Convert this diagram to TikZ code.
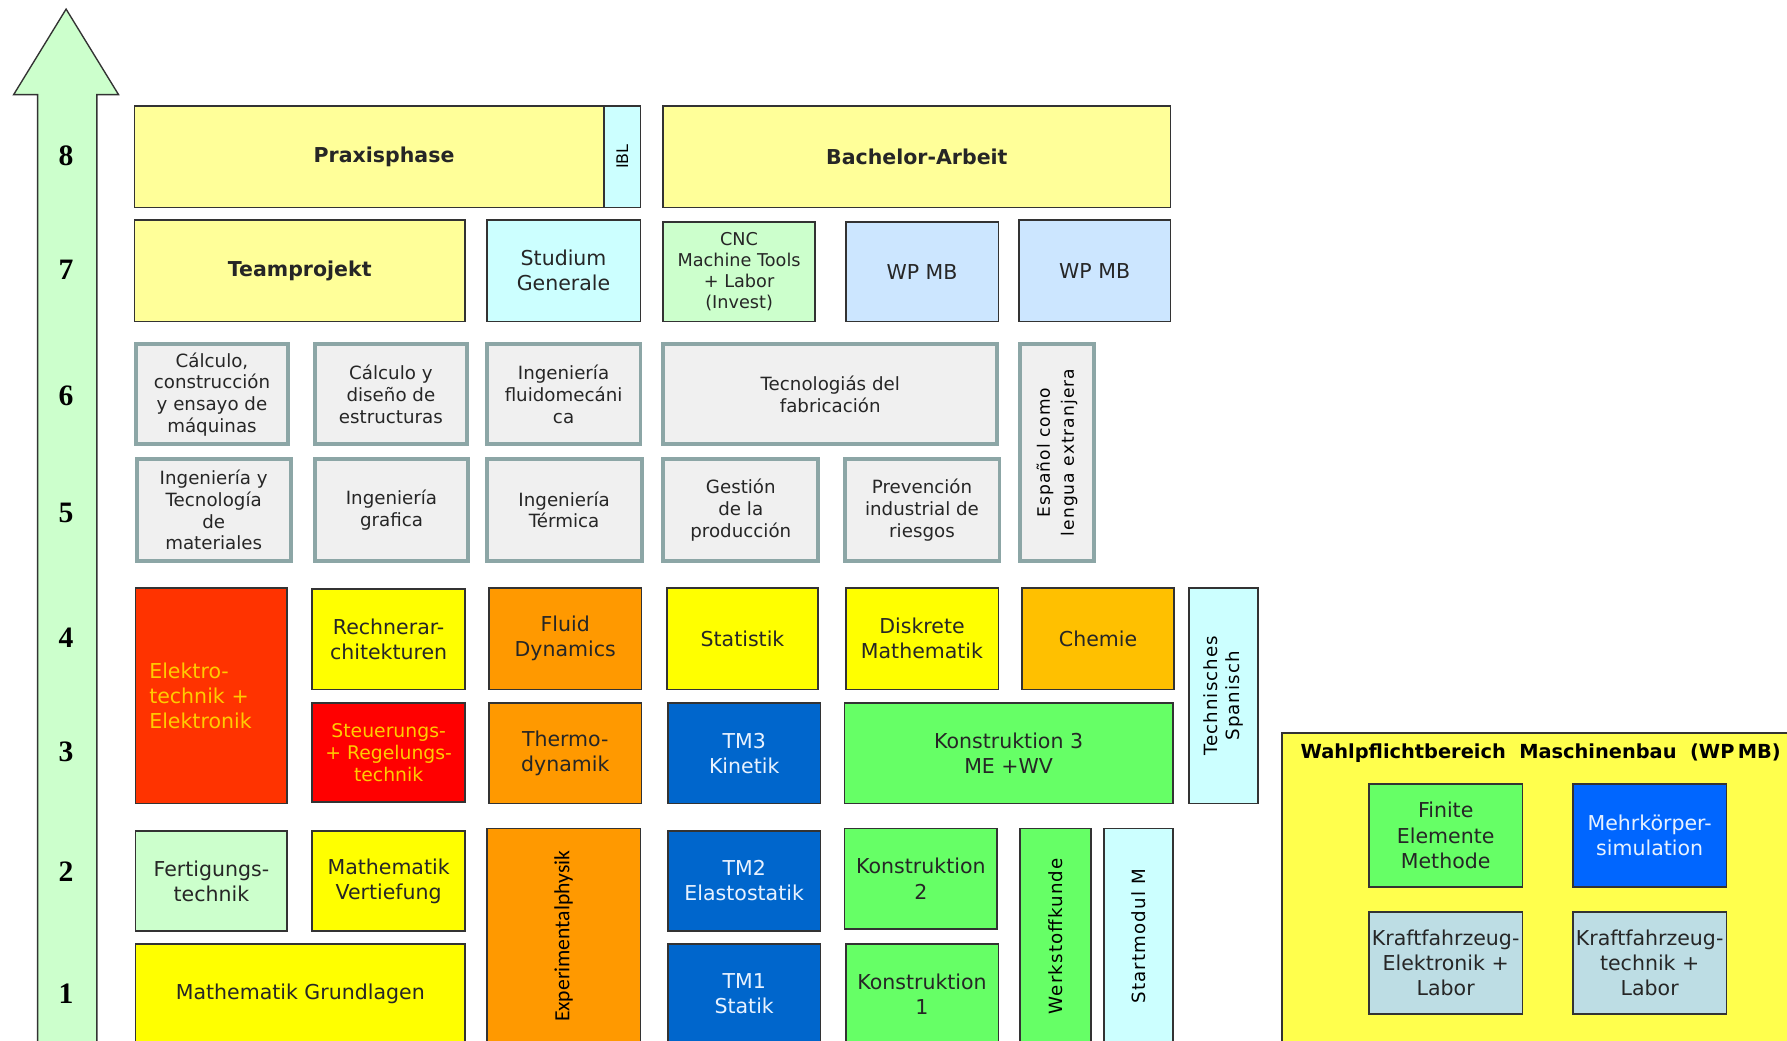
\documentclass[tikz,border=0pt]{standalone}
\usepackage{fontspec}
\setmainfont{DejaVu Sans}
\newfontfamily\zahlfont{Liberation Serif}
\newfontfamily\schmalfont{Carlito}
\newfontfamily\sperrfont[LetterSpace=6]{DejaVu Sans}

\definecolor{hellgelb}{HTML}{FFFF99}
\definecolor{hellcyan}{HTML}{CCFFFF}
\definecolor{hellgruen}{HTML}{CCFFCC}
\definecolor{wpblau}{HTML}{CCE6FF}
\definecolor{grauflaeche}{HTML}{F0F0F0}
\definecolor{graurand}{HTML}{8CA6A6}
\definecolor{elektrorot}{HTML}{FF3300}
\definecolor{signalrot}{HTML}{FF0000}
\definecolor{gelb}{HTML}{FFFF00}
\definecolor{physorange}{HTML}{FF9900}
\definecolor{chemiegelb}{HTML}{FFC000}
\definecolor{tmblau}{HTML}{0066CC}
\definecolor{mkblau}{HTML}{0066FF}
\definecolor{kgruen}{HTML}{66FF66}
\definecolor{kfzgrau}{HTML}{BDDDE4}
\definecolor{wpgelb}{HTML}{FFFF4D}
\definecolor{textgold}{HTML}{FFCC00}
\definecolor{hellschrift}{HTML}{E8F2FF}
\definecolor{rand}{HTML}{333333}

\tikzset{
  box/.style n args={4}{minimum width={(#3-#1)*1pt}, minimum height={(#4-#2)*1pt},
    at={({(#1+#3)/2},{(#2+#4)/2})}},
  fach/.style={draw=rand, line width=1.5pt, inner sep=0pt, align=center,
    text=black!85, font=\fontsize{18}{22}\selectfont},
  spanisch/.style={fach, draw=graurand, line width=3.5pt, fill=grauflaeche,
    font=\fontsize{16}{19}\selectfont},
  fett/.style={font=\fontsize{18}{22}\selectfont\bfseries},
  hoch/.style={rotate=90, align=center},
  zahl/.style={font=\zahlfont\bfseries\fontsize{26}{26}\selectfont},
}

\begin{document}
\begin{tikzpicture}[x=1pt, y=-1pt]
    \fill[white] (0,0) rectangle (1568,913);
    \useasboundingbox (0,0) rectangle (1568,913);
    \clip (0,0) rectangle (1568,913);
    % Pfeil mit Semestern
    \draw[fill=hellgruen, draw=rand, line width=1.2pt] (58,8) -- (104,83) -- (85,83) -- (85,930)
        -- (33,930) -- (33,83) -- (12,83) -- cycle;
    \foreach \nr/\y in {8/137,7/237,6/347,5/450,4/560,3/660,2/765,1/872}
    \node[zahl] (stufe\nr) at (58,\y) {\nr};

    % 8. und 7. Semester
    \node[fach, fill=hellgelb, fett, box={118}{93}{556}{182}] (praxis) {Praxisphase};
    \node[fach, fill=hellcyan, box={530}{93}{562}{182},
        label={[hoch, font=\fontsize{14}{16}\selectfont]center:IBL}] (ibl) {};
    \node[fach, fill=hellgelb, fett, box={582}{93}{1027}{182}] (bachelor) {Bachelor-Arbeit};
    \node[fach, fill=hellgelb, fett, box={118}{193}{408}{282}] (team) {Teamprojekt};
    \node[fach, fill=hellcyan, box={427}{193}{562}{282}] (studium) {Studium\\Generale};
    \node[fach, fill=hellgruen, box={582}{195}{715}{282}, font=\fontsize{15.5}{18.5}\selectfont] (cnc)
        {CNC\\Machine Tools\\+ Labor\\(Invest)};
    \node[fach, fill=wpblau, box={742}{195}{876}{282}] (wpa) {WP MB};
    \node[fach, fill=wpblau, box={894}{193}{1027}{282}] (wpb) {WP MB};

    % 6. und 5. Semester (Spanien)
    \node[spanisch, box={119}{302}{253}{390}] (calculo) {Cálculo,\\construcción\\y ensayo de\\máquinas};
    \node[spanisch, box={276}{302}{410}{390}] (diseno) {Cálculo y\\diseño de\\estructuras};
    \node[spanisch, box={427}{302}{562}{390}] (fluidomec) {Ingeniería\\fluidomecáni\\ca};
    \node[spanisch, box={582}{302}{875}{390}] (tecnologia) {Tecnologiás del\\fabricación};
    \node[spanisch, box={895}{302}{960}{492},
        label={[hoch, font=\sperrfont\fontsize{15}{21}\selectfont]center:{Español como\\lengua extranjera}}] (espanol) {};
    \node[spanisch, box={120}{403}{255}{492}] (materiales) {Ingeniería y\\Tecnología\\de\\materiales};
    \node[spanisch, box={276}{403}{411}{492}] (grafica) {Ingeniería\\grafica};
    \node[spanisch, box={427}{403}{563}{492}] (termica) {Ingeniería\\Térmica};
    \node[spanisch, box={582}{403}{718}{492}] (gestion) {Gestión\\de la\\producción};
    \node[spanisch, box={741}{403}{877}{492}] (riesgos) {Prevención\\industrial de\\riesgos};

    % 4. und 3. Semester
    \node[fach, fill=elektrorot, text=textgold, align=left, text width=109pt,
        box={119}{516}{252}{705}] (elektro) {Elektro-\\technik +\\Elektronik};
    \node[fach, fill=gelb, box={274}{517}{408}{605}] (rechner) {Rechnerar-\\chitekturen};
    \node[fach, fill=physorange, box={429}{516}{563}{605}] (fluid) {Fluid\\Dynamics};
    \node[fach, fill=gelb, box={585}{516}{718}{605}] (statistik) {Statistik};
    \node[fach, fill=gelb, box={742}{516}{876}{605}] (diskrete) {Diskrete\\Mathematik};
    \node[fach, fill=chemiegelb, box={897}{516}{1030}{605}] (chemie) {Chemie};
    \node[fach, fill=hellcyan, box={1043}{516}{1104}{705},
        label={[hoch, font=\sperrfont\fontsize{16}{20}\selectfont]center:{Technisches\\Spanisch}}] (spanischtech) {};
    \node[fach, fill=signalrot, text=textgold, box={274}{617}{408}{704},
        font=\fontsize{16.5}{19}\selectfont] (regelung) {Steuerungs-\\+ Regelungs-\\technik};
    \node[fach, fill=physorange, box={429}{617}{563}{705}] (thermo) {Thermo-\\dynamik};
    \node[fach, fill=tmblau, text=hellschrift, box={586}{617}{720}{705}] (tmdrei) {TM3\\Kinetik};
    \node[fach, fill=kgruen, box={741}{617}{1029}{705}] (konstdrei) {Konstruktion 3\\ME +WV};

    % 2. und 1. Semester
    \node[fach, fill=hellgruen, box={119}{729}{252}{817}] (fertigung) {Fertigungs-\\technik};
    \node[fach, fill=gelb, box={274}{729}{408}{817}] (vertiefung) {Mathematik\\Vertiefung};
    \node[fach, fill=physorange, box={427}{727}{562}{916},
        label={[hoch, font=\schmalfont\fontsize{19}{20}\selectfont]center:Experimentalphysik}] (physik) {};
    \node[fach, fill=tmblau, text=hellschrift, box={586}{729}{720}{817}] (tmzwei) {TM2\\Elastostatik};
    \node[fach, fill=kgruen, box={741}{727}{875}{815}] (konstzwei) {Konstruktion\\2};
    \node[fach, fill=kgruen, box={895}{727}{957}{916},
        label={[hoch, font=\sperrfont\fontsize{16}{20}\selectfont]center:Werkstoffkunde}] (werkstoff) {};
    \node[fach, fill=hellcyan, box={969}{727}{1029}{916},
        label={[hoch, font=\sperrfont\fontsize{16}{20}\selectfont]center:Startmodul M}] (startmodul) {};
    \node[fach, fill=gelb, box={119}{828}{408}{916}] (grundlagen) {Mathematik Grundlagen};
    \node[fach, fill=tmblau, text=hellschrift, box={586}{828}{720}{916}] (tmeins) {TM1\\Statik};
    \node[fach, fill=kgruen, box={742}{828}{876}{916}] (konsteins) {Konstruktion\\1};

    % Wahlpflichtbereich
    \node[fach, fill=wpgelb, box={1125}{643}{1580}{930}] (wp) {};
    \node[font=\fontsize{17}{20}\selectfont\bfseries, anchor=west, inner sep=0pt] (wptitel) at (1141,661)
        {Wahlpflichtbereich\ \ Maschinenbau\ \ (WP\,MB)};
    \node[fach, fill=kgruen, box={1201}{688}{1336}{778}] (fem) {Finite\\Elemente\\Methode};
    \node[fach, fill=mkblau, text=hellschrift, box={1380}{688}{1515}{778}] (mks) {Mehrkörper-\\simulation};
    \node[fach, fill=kfzgrau, box={1201}{800}{1336}{890}] (kfzelektronik) {Kraftfahrzeug-\\Elektronik +\\Labor};
    \node[fach, fill=kfzgrau, box={1380}{800}{1515}{890}] (kfztechnik) {Kraftfahrzeug-\\technik +\\Labor};
\end{tikzpicture}
\end{document}
